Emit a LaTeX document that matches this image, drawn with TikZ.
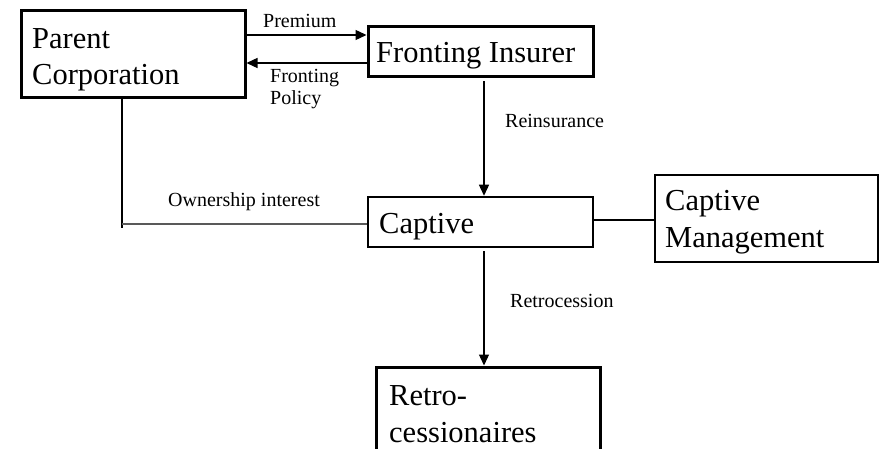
\documentclass[tikz,border=0pt]{standalone}
\usepackage{fontspec}
\setmainfont{Liberation Serif}
\usetikzlibrary{arrows.meta}
\begin{document}
\begin{tikzpicture}[x=1pt,y=-1pt,
  boxthick/.style={draw,line width=3pt,inner sep=0pt},
  boxmid/.style={draw,line width=2.5pt,inner sep=0pt},
  boxtext/.style={anchor=base west,inner sep=0pt,align=left,font=\fontsize{30.5}{36.5}\selectfont},
  lbl/.style={anchor=base west,inner sep=0pt,align=left,font=\fontsize{20}{22.5}\selectfont},
  conn/.style={line width=1.3pt},
  arr/.style={conn,-{Triangle[length=11pt,width=10pt]}},
  owngray/.style={line width=2pt,draw=black!65}]
\useasboundingbox (0,0) rectangle (880,449);
% boxes
\node[boxthick,minimum width=224pt,minimum height=87pt] (parent) at (133,54.5) {};
\node[boxthick,minimum width=225pt,minimum height=50pt] (fronting) at (480.5,52) {};
\node[boxmid,minimum width=225pt,minimum height=50pt] (captive) at (480.5,222) {};
\node[boxmid,minimum width=223pt,minimum height=87pt] (cm) at (766.5,218.5) {};
\node[boxthick,minimum width=224pt,minimum height=120pt] (retro) at (488,427) {};
% box texts (anchor = baseline of last line)
\node[boxtext] (tparent) at (32,85) {Parent\\Corporation};
\node[boxtext] (tfront) at (376,63) {Fronting Insurer};
\node[boxtext] (tcapt) at (379,233) {Captive};
\node[boxtext] (tcm) at (665,247) {Captive\\Management};
\node[boxtext] (tretro) at (389,442) {Retro-\\cessionaires};
% connectors
\draw[arr] (parent.east |- 0,35) -- (fronting.west |- 0,35);
\draw[arr] (fronting.west |- 0,63) -- (parent.east |- 0,63);
\draw[arr] ([yshift=-3pt]fronting.south -| 484,0) -- (captive.north -| 484,0);
\draw[arr] ([yshift=-3pt]captive.south -| 484,0) -- (retro.north -| 484,0);
\draw[conn] (captive.east |- 0,220) -- (cm.west |- 0,220);
\coordinate (ownend) at (122,228);
\coordinate (owncorner) at (122,224);
\draw[conn] (parent.south -| 122,0) -- (ownend);
\draw[owngray] (owncorner) -- (captive.west |- 0,224);
% labels
\node[lbl] (lprem) at (263,28) {Premium};
\node[lbl] (lfp) at (270,105) {Fronting\\Policy};
\node[lbl] (lre) at (505,128) {Reinsurance};
\node[lbl] (lown) at (168,207) {Ownership interest};
\node[lbl] (lretro) at (510,307) {Retrocession};
\end{tikzpicture}
\end{document}
